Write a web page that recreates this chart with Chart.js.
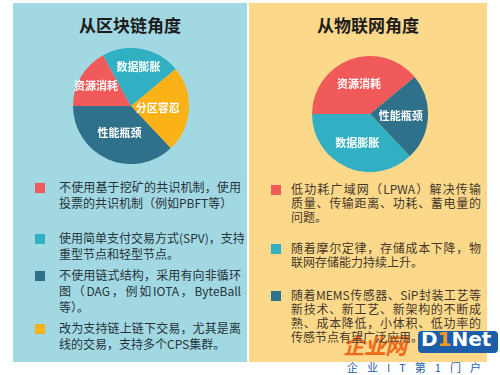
<!DOCTYPE html>
<html>
<head>
<meta charset="utf-8">
<script src="https://cdn.jsdelivr.net/npm/chart.js@4.4.0/dist/chart.umd.min.js"></script>
<style>
  body { margin: 0; width: 500px; height: 375px; background: #fff; position: relative; overflow: hidden;
         font-family: "Noto Sans CJK SC", "Noto Sans", sans-serif; }
  .panel { position: absolute; top: 3px; height: 359px; }
  .title { position: absolute; top: 9px; width: 100%; text-align: center; font-size: 17px; font-weight: bold; color: #1c1c1c; }
  .pie { position: absolute; }
  .sq { position: absolute; width: 10px; height: 10px; }
  .item { position: absolute; font-size: 12px; }
  .item div { white-space: nowrap; }
  .item div.full { text-align: justify; text-align-last: justify; }
</style>
</head>
<body>
<div class="panel" id="left" style="left:13px; width:234px; background:#a2d8e2;">
  <div class="title">从区块链角度</div>
</div>
<div class="panel" id="right" style="left:249px; width:238px; background:#fcd88b;">
  <div class="title">从物联网角度</div>
</div>
<canvas id="pieLeft" class="pie" width="116" height="116" style="left:73px; top:48px;"></canvas>
<canvas id="pieRight" class="pie" width="116" height="116" style="left:312px; top:56px;"></canvas>

<div style="position:absolute; left:343px; top:328px; font-size:22px; font-weight:bold; font-style:italic; color:#f06a1a; letter-spacing:-1px;">企业网</div>
<div style="position:absolute; left:418px; top:331px; width:80px; height:22px; background:#1d5ea8; border-radius:4px;"></div>
<div style="position:absolute; left:421px; top:327px; font-size:20px; font-weight:bold; color:#fff; font-family:'DejaVu Sans';">D<span style="color:#f39a1e;">1</span>Net</div>
<div style="position:absolute; left:347px; top:359px; font-size:11px; color:#1d5ea8; letter-spacing:9px;">企业IT第1门户</div>

<script>
// 左: 区块链角度
const leftLabels = ["资源消耗", "数据膨胀", "分区容忍", "性能瓶颈"];
const leftValues = [17, 22, 24, 37];
const leftColors = ["#f05a5a", "#32b0c3", "#fbb118", "#2f718a"];

// 右: 物联网角度
const rightLabels = ["资源消耗", "性能瓶颈", "数据膨胀"];
const rightValues = [39, 24, 37];
const rightColors = ["#f05a5a", "#2f718a", "#32b0c3"];

// 説明文
const leftNotes = [
    ["不使用基于挖矿的共识机制，使用", "投票的共识机制（例如PBFT等）"],
    ["使用简单支付交易方式(SPV)，支持", "重型节点和轻型节点。"],
    ["不使用链式结构，采用有向非循环", "图（DAG，例如IOTA，ByteBall", "等）。"],
    ["改为支持链上链下交易，尤其是离", "线的交易，支持多个CPS集群。"]
];
const leftNoteColors = ["#f05a5a", "#32b0c3", "#2f718a", "#fbb118"];
const rightNotes = [
    ["低功耗广域网（LPWA）解决传输", "质量、传输距离、功耗、蓄电量的", "问题。"],
    ["随着摩尔定律，存储成本下降，物", "联网存储能力持续上升。"],
    ["随着MEMS传感器、SiP封装工艺等", "新技术、新工艺、新架构的不断成", "熟、成本降低，小体积、低功率的", "传感节点有望广泛应用。"]
];
const rightNoteColors = ["#f05a5a", "#32b0c3", "#2f718a"];

// 扇形内のラベル描画
const sliceLabels = {
    id: 'sliceLabels',
    afterDatasetsDraw(chart, args, opts) {
        const ctx = chart.ctx;
        const meta = chart.getDatasetMeta(0);
        ctx.save();
        ctx.fillStyle = '#fff';
        ctx.font = 'bold 11px "Noto Sans CJK SC"';
        ctx.textAlign = 'center';
        ctx.textBaseline = 'middle';
        meta.data.forEach((arc, i) => {
            const p = arc.getProps(['x', 'y', 'startAngle', 'endAngle', 'outerRadius'], true);
            const mid = (p.startAngle + p.endAngle) / 2;
            const r = p.outerRadius * opts.dist[i];
            ctx.fillText(chart.data.labels[i], p.x + Math.cos(mid) * r, p.y + Math.sin(mid) * r);
        });
        ctx.restore();
    }
};

function createPie(id, labels, values, colors, dist) {
    new Chart(document.getElementById(id).getContext('2d'), {
        type: 'pie',
        data: {
            labels: labels,
            datasets: [{ data: values, backgroundColor: colors, borderWidth: 0 }]
        },
        options: {
            responsive: false,
            animation: false,
            rotation: -90,
            layout: { padding: 0 },
            plugins: {
                legend: { display: false },
                tooltip: { enabled: false },
                sliceLabels: { dist: dist }
            }
        },
        plugins: [sliceLabels]
    });
}

function createNotes(notes, colors, tops, sqLeft, textLeft, width, lineH, textColor) {
    notes.forEach((lines, i) => {
        const sq = document.createElement('div');
        sq.className = 'sq';
        sq.style.left = sqLeft + 'px';
        sq.style.top = (tops[i] + 2) + 'px';
        sq.style.background = colors[i];
        document.body.appendChild(sq);
        const box = document.createElement('div');
        box.className = 'item';
        box.style.left = textLeft + 'px';
        box.style.top = (tops[i] - lineH / 2 + 6) + 'px';
        box.style.width = width + 'px';
        box.style.lineHeight = lineH + 'px';
        box.style.color = textColor;
        lines.forEach((t, j) => {
            const d = document.createElement('div');
            d.textContent = t;
            if (j < lines.length - 1) d.className = 'full';
            box.appendChild(d);
        });
        document.body.appendChild(box);
    });
}

createPie('pieLeft', leftLabels, leftValues, leftColors, [0.7, 0.68, 0.46, 0.5]);
createPie('pieRight', rightLabels, rightValues, rightColors, [0.56, 0.53, 0.55]);
createNotes(leftNotes, leftNoteColors, [181, 232, 269, 322], 35, 59, 182, 16, '#26343a');
createNotes(rightNotes, rightNoteColors, [183, 242, 289], 271, 291, 190, 14, '#45382a');
</script>
</body>
</html>
